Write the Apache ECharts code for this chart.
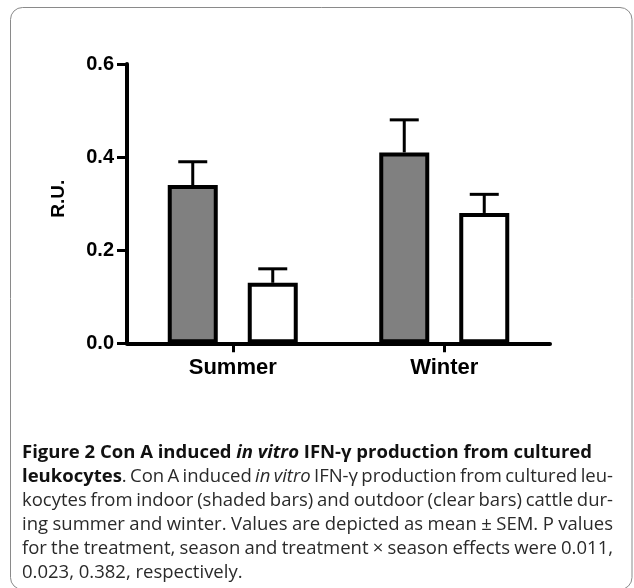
<!DOCTYPE html>
<html><head><meta charset="utf-8">
<script src="https://cdn.jsdelivr.net/npm/echarts@6/dist/echarts.min.js"></script>
<style>html,body{margin:0;padding:0;background:#fff}#c{width:634px;height:588px}</style>
</head><body><div id="c"></div>
<script>
// ---- data ----
const categories = ['Summer', 'Winter'];
const indoorMean = [0.34, 0.41];   // shaded bars
const indoorSEM  = [0.05, 0.07];
const outdoorMean = [0.13, 0.28];  // clear bars
const outdoorSEM  = [0.03, 0.04];
const yTicks = [0.0, 0.2, 0.4, 0.6];
const yName = 'R.U.';
const captionLines = [
  [['b', 'Figure 2 Con A induced '], ['bi', 'in vitro'], ['b', ' IFN-γ production from cultured']],
  [['b', 'leukocytes'], ['r', '. Con A induced '], ['i', 'in vitro'], ['r', ' IFN-γ production from cultured leu-']],
  [['r', 'kocytes from indoor (shaded bars) and outdoor (clear bars) cattle dur-']],
  [['r', 'ing summer and winter. Values are depicted as mean ± SEM. P values']],
  [['r', 'for the treatment, season and treatment × season effects were 0.011,']],
  [['r', '0.023, 0.382, respectively.']]
];
const justified = [false, true, true, true, true, false];

// ---- style constants ----
const BAR_W = 50, BAR_GAP = 0.6, CAP = 14.5;
const AX_FONT = 'Liberation Sans, Arial, sans-serif';
const CAP_FONT = 'Open Sans';
const CAP_LEFT = 22, CAP_RIGHT = 613, LINE1_RIGHT = 601, CAP_BASE0 = 457.5, CAP_LEAD = 24.1;

// ---- caption layout (justified) ----
const ctx = document.createElement('canvas').getContext('2d');
function fontOf(st, size) {
  return [st.includes('i') ? 'italic' : '', st.includes('b') ? 'bold' : '', size + 'px', "'" + CAP_FONT + "'"].filter(Boolean).join(' ');
}
function toWords(runs) {
  const words = []; let cur = [];
  runs.forEach(([st, txt]) => {
    txt.split(' ').forEach((p, k) => {
      if (k > 0) { if (cur.length) words.push(cur); cur = []; }
      if (p) cur.push([st, p]);
    });
  });
  if (cur.length) words.push(cur);
  return words;
}
function measure(st, txt, size) { ctx.font = fontOf(st, size); return ctx.measureText(txt).width; }
const W = CAP_RIGHT - CAP_LEFT;
const base = 20;
let capSize = 40;
captionLines.forEach((runs, li) => {
  if (li === captionLines.length - 1) return;
  const words = toWords(runs);
  let tot = 0;
  words.forEach(w => w.forEach(([st, t]) => tot += measure(st, t, base)));
  tot += (words.length - 1) * measure('r', ' ', base) * (justified[li] ? 0.65 : 1);
  const target = justified[li] ? W : (LINE1_RIGHT - CAP_LEFT);
  capSize = Math.min(capSize, base * target / tot);
});
capSize = Math.floor(capSize * 10) / 10;
ctx.font = fontOf('r', capSize); ctx.textBaseline = 'middle';
const midToBase = ctx.measureText('H').actualBoundingBoxDescent;
const captionEls = [];
captionLines.forEach((runs, li) => {
  const words = toWords(runs);
  const widths = words.map(w => w.map(([st, t]) => measure(st, t, capSize)));
  const sum = widths.reduce((a, w) => a + w.reduce((x, y) => x + y, 0), 0);
  const gap = justified[li] ? (W - sum) / (words.length - 1) : measure('r', ' ', capSize);
  let x = CAP_LEFT;
  const y = CAP_BASE0 + li * CAP_LEAD - midToBase;
  words.forEach((w, wi) => {
    w.forEach(([st, t], pi) => {
      captionEls.push({
        type: 'text', x: x, y: y, silent: true,
        style: { text: t, font: fontOf(st, capSize), fill: st.includes('b') ? '#111' : '#2a2a2a', align: 'left', verticalAlign: 'middle' }
      });
      x += widths[wi][pi];
    });
    x += gap;
  });
});

// ---- error bars ----
function errorSeries(means, sems, sign) {
  return {
    type: 'custom', z: 1, silent: true,
    data: means.map((m, i) => [i, m, sems[i]]),
    encode: { x: 0, y: 1 },
    renderItem(params, api) {
      const i = api.value(0), m = api.value(1), s = api.value(2);
      const off = sign * BAR_W * (1 + BAR_GAP) / 2;
      const b = api.coord([i, m]), t = api.coord([i, m + s]);
      const x = b[0] + off;
      return {
        type: 'group', children: [
          { type: 'line', shape: { x1: x, y1: b[1], x2: x, y2: t[1] }, style: { stroke: '#000', lineWidth: 3 } },
          { type: 'line', shape: { x1: x - CAP, y1: t[1], x2: x + CAP, y2: t[1] }, style: { stroke: '#000', lineWidth: 3 } }
        ]
      };
    }
  };
}

const chart = echarts.init(document.getElementById('c'), null, { renderer: 'canvas' });
chart.setOption({
  animation: false,
  backgroundColor: '#fff',
  grid: { left: 127, right: 84, top: 64, bottom: 244.7, containLabel: false, outerBoundsMode: 'none' },
  xAxis: {
    type: 'category', data: categories,
    axisLine: { lineStyle: { color: '#000', width: 4 } },
    axisTick: { show: true, alignWithLabel: true, length: 9, lineStyle: { color: '#000', width: 3 } },
    axisLabel: { color: '#000', fontFamily: AX_FONT, fontWeight: 'bold', fontSize: 22, margin: 14 },
    splitLine: { show: false }
  },
  yAxis: {
    type: 'value', min: yTicks[0], max: yTicks[yTicks.length - 1], interval: yTicks[1] - yTicks[0],
    name: yName, nameLocation: 'middle', nameGap: 59, nameRotate: 90,
    nameTextStyle: { color: '#000', fontFamily: AX_FONT, fontWeight: 'bold', fontSize: 19, padding: [0, 0, 0, 10] },
    axisLine: { show: true, lineStyle: { color: '#000', width: 4 } },
    axisTick: { show: true, length: 10, lineStyle: { color: '#000', width: 3 } },
    axisLabel: { color: '#000', fontFamily: AX_FONT, fontWeight: 'bold', fontSize: 20, margin: 13, formatter: v => v.toFixed(1) },
    splitLine: { show: false }
  },
  series: [
    errorSeries(indoorMean, indoorSEM, -1),
    errorSeries(outdoorMean, outdoorSEM, 1),
    { type: 'bar', name: 'Indoor', data: indoorMean, barWidth: BAR_W, barGap: (BAR_GAP * 100) + '%', z: 2,
      itemStyle: { color: '#808080', borderColor: '#000', borderWidth: 4 } },
    { type: 'bar', name: 'Outdoor', data: outdoorMean, barWidth: BAR_W, z: 2,
      itemStyle: { color: '#fff', borderColor: '#000', borderWidth: 4 } }
  ],
  graphic: [
    { type: 'rect', silent: true, shape: { x: 10.5, y: 7.5, width: 621.5, height: 582, r: 12 },
      style: { fill: 'none', stroke: '#8a8a8a', lineWidth: 1 } }
  ].concat(captionEls)
});
</script></body></html>
